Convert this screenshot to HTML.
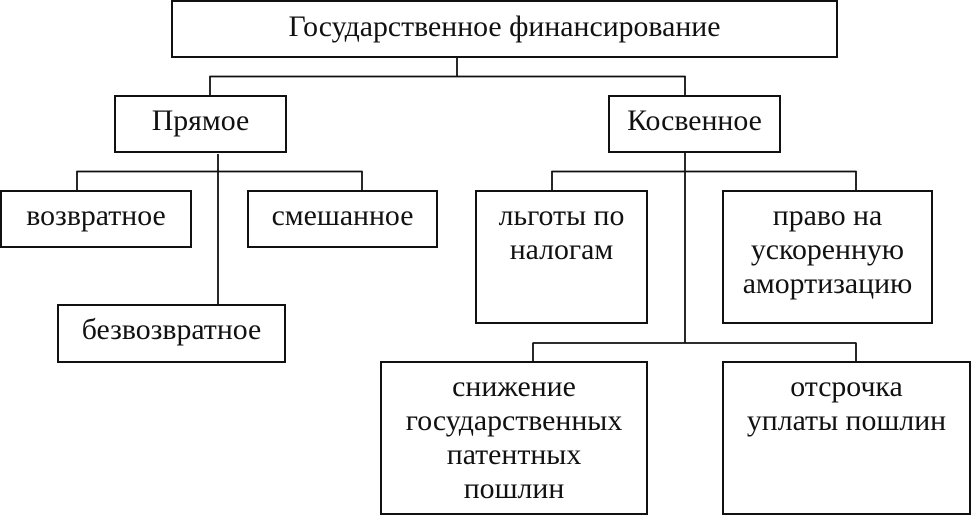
<!DOCTYPE html>
<html>
<head>
<meta charset="utf-8">
<style>
  html, body { margin:0; padding:0; background:#fff; }
  body { width:971px; height:515px; position:relative; overflow:hidden; }
  .b { position:absolute; box-sizing:border-box; border:2px solid #111; background:#fff;
       font-family:"Liberation Serif", "Noto Serif CJK SC", serif; font-size:29.8px; line-height:34px;
       color:#111; text-align:center; padding-top:7px; white-space:nowrap; }
  svg { position:absolute; left:0; top:0; }
</style>
</head>
<body>
<svg width="971" height="515" viewBox="0 0 971 515">
  <g stroke="#111" stroke-width="1.8" fill="none">
    <line x1="457" y1="57" x2="457" y2="76.5"/>
    <line x1="209.5" y1="76.5" x2="685.5" y2="76.5"/>
    <line x1="210" y1="76" x2="210" y2="96"/>
    <line x1="685" y1="76" x2="685" y2="96"/>
    <line x1="218" y1="154" x2="218" y2="307"/>
    <line x1="76.5" y1="171.5" x2="362.5" y2="171.5"/>
    <line x1="77" y1="171" x2="77" y2="191"/>
    <line x1="362" y1="171" x2="362" y2="191"/>
    <line x1="685" y1="152" x2="685" y2="343"/>
    <line x1="551.5" y1="171.5" x2="856.5" y2="171.5"/>
    <line x1="552" y1="171" x2="552" y2="191"/>
    <line x1="856" y1="171" x2="856" y2="191"/>
    <line x1="532.5" y1="343" x2="856.5" y2="343"/>
    <line x1="533" y1="343" x2="533" y2="362"/>
    <line x1="856" y1="343" x2="856" y2="362"/>
  </g>
</svg>
<div class="b" style="left:171px;top:0;width:667px;height:58px;padding-top:8px;">Государственное финансирование</div>
<div class="b" style="left:114px;top:95px;width:173px;height:58px;">Прямое</div>
<div class="b" style="left:608px;top:95px;width:173px;height:58px;">Косвенное</div>
<div class="b" style="left:0;top:190px;width:192px;height:58px;">возвратное</div>
<div class="b" style="left:247px;top:190px;width:191px;height:58px;">смешанное</div>
<div class="b" style="left:57px;top:304px;width:229px;height:59px;">безвозвратное</div>
<div class="b" style="left:475px;top:190px;width:173px;height:134px;">льготы по<br>налогам</div>
<div class="b" style="left:722px;top:190px;width:211px;height:134px;">право на<br>ускоренную<br>амортизацию</div>
<div class="b" style="left:380px;top:361px;width:268px;height:154px;">снижение<br>государственных<br>патентных<br>пошлин</div>
<div class="b" style="left:722px;top:361px;width:249px;height:154px;">отсрочка<br>уплаты пошлин</div>
</body>
</html>
